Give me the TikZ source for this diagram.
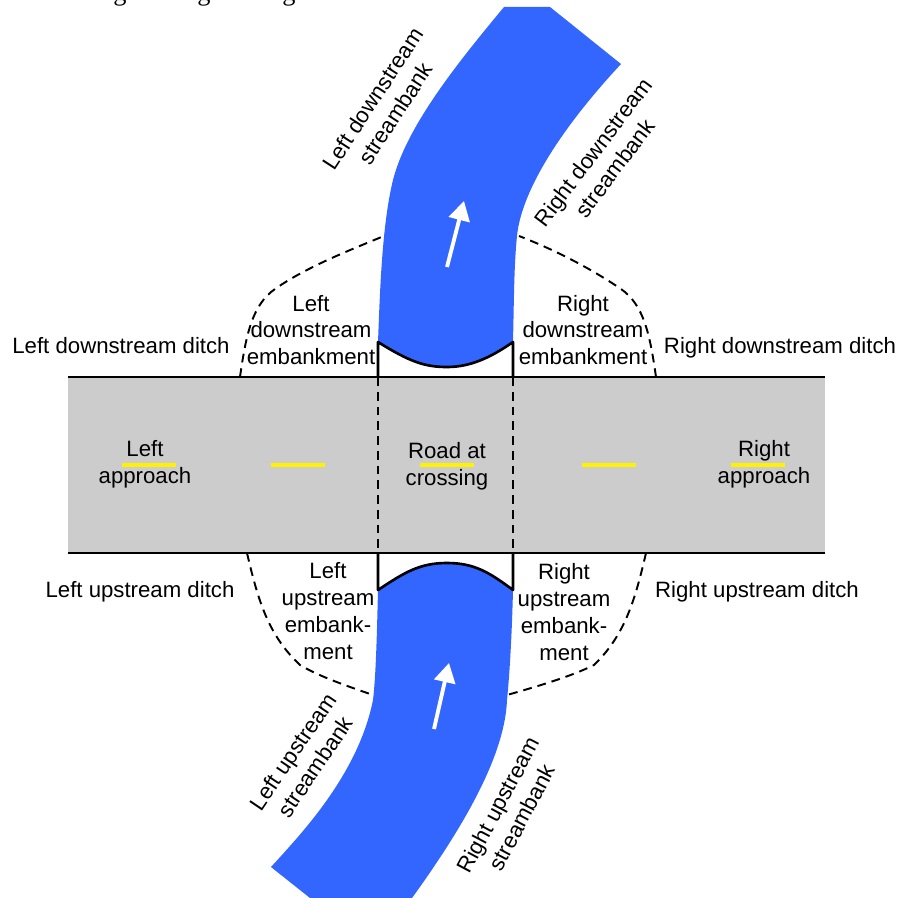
\documentclass[tikz,border=0pt]{standalone}
\usepackage{fontspec}
\setmainfont{Liberation Sans}
\newfontfamily\captionfont{Liberation Serif}
\usetikzlibrary{arrows.meta}
\tikzset{
  label/.style={inner sep=0pt, align=center, font=\fontsize{12.64}{15.3}\selectfont},
  captionpart/.style={anchor=base, inner sep=0pt, font=\captionfont\fontsize{15}{18}\selectfont},
  river/.style={fill=riverblue, draw=none},
  bank/.style={line width=1.5pt, line join=round},
  ditch/.style={line width=1.1pt, dash pattern=on 5pt off 3.4pt},
  flow/.style={white, line width=2.2pt, -{Triangle[length=11pt, width=12pt]}},
  centerline/.style={yellow, line width=2.2pt}
}
\definecolor{riverblue}{HTML}{3366FF}
\definecolor{roadgray}{HTML}{CCCCCC}
\begin{document}
\begin{tikzpicture}[x=0.02cm, y=-0.02cm]
  \useasboundingbox (0,0) rectangle (898,898);
  % Caption line cut off by the top edge
  \begin{scope}
    \clip (0,0) rectangle (898,8);
    \node (capA) [captionpart] at (120,1) {g};
    \node (capB) [captionpart] at (204,1) {g};
    \node (capC) [captionpart] at (289,1) {g};
  \end{scope}
  % Corners
  \coordinate (roadTL) at (68,377);
  \coordinate (roadTR) at (825,377);
  \coordinate (roadBL) at (68,553);
  \coordinate (roadBR) at (825,553);
  \coordinate (crossTL) at (378,377);
  \coordinate (crossTR) at (513,377);
  \coordinate (crossBL) at (378,553);
  \coordinate (crossBR) at (513,553);
  \coordinate (bankTL) at (378,342);
  \coordinate (bankTR) at (513,342);
  \coordinate (bankBL) at (378,590);
  \coordinate (bankBR) at (513,590);
  % Rivers
  \path[river] (bankTL) .. controls (410,362) and (425,367) .. (447,367)
    .. controls (470,367) and (490,358) .. (bankTR)
    .. controls (514,300) and (514,265) .. (517,236)
    .. controls (521,195) and (555,135) .. (621,64)
    -- (550,7) -- (504,7)
    .. controls (460,60) and (407,125) .. (393,180)
    .. controls (382,225) and (380,290) .. (bankTL) -- cycle;
  \path[river] (bankBL) .. controls (405,572) and (420,563) .. (447,563)
    .. controls (475,563) and (490,573) .. (bankBR)
    .. controls (512,630) and (510,670) .. (507,700)
    .. controls (505,750) and (472,815) .. (412,898)
    -- (310,898) -- (271,867)
    .. controls (300,835) and (358,775) .. (373,700)
    .. controls (376,675) and (377,630) .. (bankBL) -- cycle;
  % Road
  \fill[roadgray] (roadTL) rectangle (roadBR);
  \draw[bank] (roadTL) -- (roadTR);
  \draw[bank] (roadBL) -- (roadBR);
  \draw[centerline] (122,465) -- (176,465);
  \draw[centerline] (271,465) -- (325,465);
  \draw[centerline] (420,465) -- (474,465);
  \draw[centerline] (582,465) -- (636,465);
  \draw[centerline] (731,465) -- (785,465);
  % Banks
  \draw[bank] (crossTL) -- (bankTL) .. controls (410,362) and (425,367) .. (447,367)
    .. controls (470,367) and (490,358) .. (bankTR) -- (crossTR);
  \draw[bank] (crossBL) -- (bankBL) .. controls (405,572) and (420,563) .. (447,563)
    .. controls (475,563) and (490,573) .. (bankBR) -- (crossBR);
  \draw[ditch] (crossTL) -- (crossBL);
  \draw[ditch] (crossTR) -- (crossBR);
  % Ditches
  \draw[ditch] (240,377) .. controls (246,335) and (252,305) .. (275,289) .. controls (305,268) and (345,252) .. (384,236);
  \draw[ditch] (656,377) .. controls (650,335) and (644,305) .. (621,289) .. controls (590,268) and (555,250) .. (519,236);
  \draw[ditch] (247,553) .. controls (258,600) and (268,635) .. (300,665) .. controls (320,677) and (350,687) .. (373,695);
  \draw[ditch] (646,553) .. controls (635,600) and (625,635) .. (594,665) .. controls (570,677) and (535,687) .. (507,695);
  % Flow arrows
  \coordinate (flowTa) at (447,267);
  \coordinate (flowTb) at (464,201);
  \coordinate (flowBa) at (434,729);
  \coordinate (flowBb) at (449,663);
  \draw[flow] (flowTa) -- (flowTb);
  \draw[flow] (flowBa) -- (flowBb);
  % Labels
  \node (ditchDL) [label] at (121,346) {Left downstream ditch};
  \node (ditchDR) [label] at (780,348) {Right downstream ditch};
  \node (ditchUL) [label] at (140,592) {Left upstream ditch};
  \node (ditchUR) [label] at (757,592) {Right upstream ditch};
  \node (embDL) [label] at (311,330) {Left\\downstream\\embankment};
  \node (embDR) [label] at (583,330) {Right\\downstream\\embankment};
  \node (embUL) [label] at (328,611) {Left\\upstream\\embank-\\ment};
  \node (embUR) [label] at (564,612) {Right\\upstream\\embank-\\ment};
  \node (apprL) [label] at (145,464) {Left\\approach};
  \node (apprR) [label] at (764,464) {Right\\approach};
  \node (road) [label] at (447,466) {Road at\\crossing};
  \node (sbDL) [label, rotate=57] at (384,106) {Left downstream\\streambank};
  \node (sbDR) [label, rotate=53] at (604,160) {Right downstream\\streambank};
  \node (sbUL) [label, rotate=56] at (304,759) {Left upstream\\streambank};
  \node (sbUR) [label, rotate=62] at (510,811) {Right upstream\\streambank};
\end{tikzpicture}
\end{document}
